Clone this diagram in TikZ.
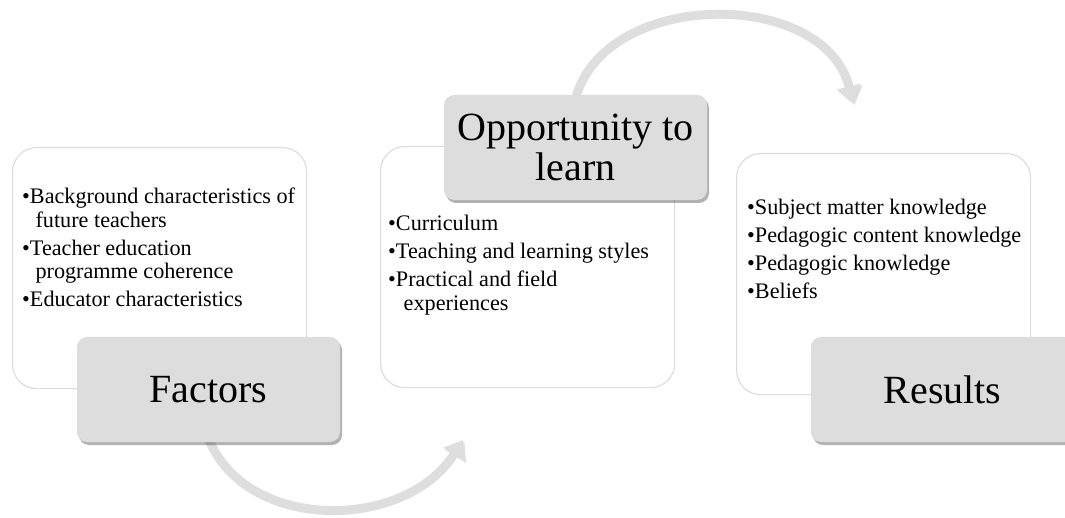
\documentclass[tikz,border=0pt]{standalone}
\usepackage{fontspec}
\setmainfont{Liberation Serif}
\usetikzlibrary{shadows,arrows.meta,backgrounds}
\definecolor{labelgray}{HTML}{DDDDDD}
\definecolor{boxline}{HTML}{DDDDDD}
\definecolor{arcgray}{HTML}{DEDEDE}
\begin{document}
\begin{tikzpicture}[x=1pt,y=-1pt,
  whitebox/.style={draw=boxline, line width=1.2pt, fill=white, rounded corners=24pt,
    anchor=north west, minimum width=294pt, minimum height=241pt, inner sep=0pt},
  labelbox/.style={fill=labelgray, rounded corners=10pt, minimum width=263pt, minimum height=105pt,
    inner sep=0pt, font=\fontsize{40}{40}\selectfont, align=center,
    drop shadow={shadow xshift=2pt, shadow yshift=-3pt, opacity=0.3, fill=black}},
  listtext/.style={font=\fontsize{22.2}{23.5}\selectfont, align=left, inner sep=0pt, anchor=north west},
  arcarrow/.style={draw=arcgray, line width=9pt, -{Triangle[width=24pt,length=17pt]},
    preaction={draw=black, opacity=0.12, transform canvas={shift={(1.5pt,-2pt)}}}}]
\useasboundingbox (0,0) rectangle (1065,518);
\clip (0,0) rectangle (1065,518);
% white boxes
\node[whitebox] (b1) at (12,147) {};
\node[whitebox] (b2) at (380,146) {};
\node[whitebox] (b3) at (736,153) {};
% list texts
\node[listtext] (t1) at (22,188) {•Background characteristics of\\\hspace*{0.6em}future teachers\\[4.5pt]•Teacher education\\\hspace*{0.6em}programme coherence\\[4.5pt]•Educator characteristics};
\node[listtext] (t2) at (388,215) {•Curriculum\\[4.5pt]•Teaching and learning styles\\[4.5pt]•Practical and field\\\hspace*{0.7em}experiences};
\node[listtext] (t3) at (747,199) {•Subject matter knowledge\\[4.5pt]•Pedagogic content knowledge\\[4.5pt]•Pedagogic knowledge\\[4.5pt]•Beliefs};
% label boxes
\node[labelbox] (f) at (208.5,389.5) {Factors};
\node[labelbox] (o) at (575.5,147.5) {\raisebox{-3pt}{Opportunity to}\\\raisebox{-3pt}{learn}};
\node[labelbox] (r) at (942.5,389.5) {Results};
% arcs
\coordinate (e1) at (463,440);
\coordinate (e2) at (853,103);
\begin{scope}[on background layer]
\draw[arcarrow] ([yshift=4pt]f.south) .. controls (245,532) and (405,532) .. (e1);
\draw[arcarrow] ([yshift=-4pt]o.north) .. controls (605,-12) and (825,-12) .. (e2);
\end{scope}
\end{tikzpicture}
\end{document}
